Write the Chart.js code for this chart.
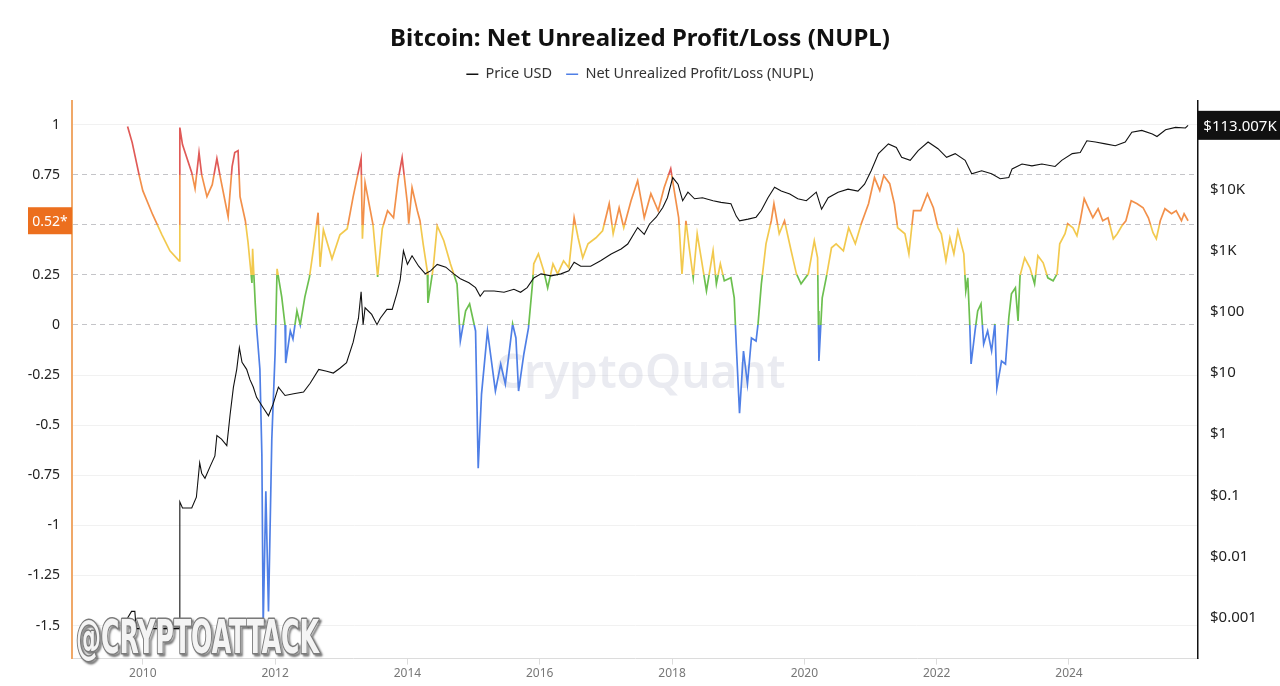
<!DOCTYPE html>
<html>
<head>
<meta charset="utf-8">
<title>Bitcoin: Net Unrealized Profit/Loss (NUPL)</title>
<script src="https://cdn.jsdelivr.net/npm/chart.js@4.4.1/dist/chart.umd.min.js"></script>
<style>
  html, body { margin: 0; padding: 0; background: #fff; }
  #wrap { width: 1280px; height: 686px; position: relative; }
</style>
</head>
<body>
<div id="wrap"><canvas id="nuplChart"></canvas></div>
<script>
// dates are decimal years
var nuplDates = [
  2009.77, 2009.84, 2009.95, 2010.00, 2010.15, 2010.29, 2010.41, 2010.55, 2010.56, 2010.60,
  2010.74, 2010.79, 2010.85, 2010.89, 2010.97, 2011.05, 2011.12, 2011.17, 2011.29, 2011.35,
  2011.39, 2011.44, 2011.47, 2011.55, 2011.59, 2011.65, 2011.66, 2011.70, 2011.72, 2011.77,
  2011.80, 2011.82, 2011.86, 2011.90, 2011.95, 2012.00, 2012.03, 2012.10, 2012.15, 2012.16,
  2012.23, 2012.27, 2012.33, 2012.38, 2012.45, 2012.52, 2012.58, 2012.65, 2012.68, 2012.73,
  2012.86, 2012.98, 2013.09, 2013.18, 2013.30, 2013.32, 2013.36, 2013.44, 2013.48, 2013.55,
  2013.62, 2013.70, 2013.79, 2013.86, 2013.92, 2014.00, 2014.02, 2014.07, 2014.15, 2014.19,
  2014.24, 2014.30, 2014.31, 2014.39, 2014.45, 2014.55, 2014.65, 2014.75, 2014.80, 2014.88,
  2014.94, 2015.03, 2015.07, 2015.12, 2015.21, 2015.33, 2015.41, 2015.48, 2015.59, 2015.64,
  2015.68, 2015.76, 2015.83, 2015.89, 2015.91, 2015.98, 2016.06, 2016.12, 2016.20, 2016.27,
  2016.36, 2016.44, 2016.52, 2016.58, 2016.65, 2016.73, 2016.85, 2016.95, 2017.05, 2017.11,
  2017.20, 2017.27, 2017.38, 2017.48, 2017.58, 2017.68, 2017.79, 2017.88, 2017.98, 2018.05,
  2018.10, 2018.15, 2018.21, 2018.26, 2018.32, 2018.38, 2018.44, 2018.52, 2018.62, 2018.67,
  2018.73, 2018.79, 2018.89, 2018.94, 2018.97, 2019.02, 2019.08, 2019.14, 2019.20, 2019.27,
  2019.30, 2019.35, 2019.42, 2019.50, 2019.54, 2019.62, 2019.70, 2019.80, 2019.88, 2019.95,
  2020.06, 2020.15, 2020.20, 2020.21, 2020.22, 2020.27, 2020.33, 2020.41, 2020.48, 2020.59,
  2020.67, 2020.77, 2020.86, 2020.97, 2021.06, 2021.14, 2021.20, 2021.29, 2021.36, 2021.41,
  2021.52, 2021.58, 2021.65, 2021.76, 2021.86, 2021.95, 2022.02, 2022.07, 2022.14, 2022.20,
  2022.26, 2022.32, 2022.41, 2022.44, 2022.47, 2022.50, 2022.52, 2022.58, 2022.62, 2022.67,
  2022.71, 2022.77, 2022.83, 2022.88, 2022.91, 2022.98, 2023.04, 2023.09, 2023.13, 2023.19,
  2023.23, 2023.26, 2023.33, 2023.41, 2023.48, 2023.53, 2023.61, 2023.68, 2023.76, 2023.82,
  2023.86, 2023.94, 2023.98, 2024.06, 2024.12, 2024.17, 2024.23, 2024.29, 2024.36, 2024.44,
  2024.51, 2024.59, 2024.67, 2024.73, 2024.80, 2024.86, 2024.94, 2025.03, 2025.12, 2025.20,
  2025.27, 2025.32, 2025.38, 2025.45, 2025.55, 2025.62, 2025.70, 2025.74, 2025.80
];
var nuplValues = [
  0.99, 0.91, 0.74, 0.67, 0.55, 0.45, 0.37, 0.32, 0.985, 0.90,
  0.76, 0.68, 0.86, 0.75, 0.64, 0.70, 0.83, 0.74, 0.54, 0.79,
  0.86, 0.87, 0.64, 0.52, 0.415, 0.21, 0.38, 0.105, -0.01, -0.22,
  -0.65, -1.5, -0.83, -1.43, -0.57, -0.14, 0.28, 0.14, 0.00, -0.19,
  -0.03, -0.07, 0.07, 0.00, 0.14, 0.24, 0.38, 0.56, 0.29, 0.475,
  0.33, 0.45, 0.48, 0.64, 0.83, 0.43, 0.71, 0.57, 0.50, 0.24,
  0.48, 0.57, 0.535, 0.725, 0.835, 0.605, 0.505, 0.685, 0.57, 0.52,
  0.40, 0.27, 0.11, 0.285, 0.495, 0.42, 0.305, 0.205, -0.08, 0.07,
  0.105, -0.03, -0.715, -0.345, -0.03, -0.33, -0.195, -0.295, 0.005, -0.065,
  -0.33, -0.145, -0.015, 0.205, 0.305, 0.355, 0.27, 0.185, 0.305, 0.255,
  0.32, 0.285, 0.535, 0.435, 0.335, 0.405, 0.435, 0.47, 0.605, 0.455,
  0.585, 0.485, 0.62, 0.72, 0.535, 0.655, 0.57, 0.685, 0.78, 0.635,
  0.535, 0.255, 0.52, 0.385, 0.235, 0.455, 0.335, 0.17, 0.37, 0.205,
  0.305, 0.22, 0.235, 0.135, -0.095, -0.44, -0.13, -0.295, -0.065, -0.08,
  0.005, 0.205, 0.405, 0.52, 0.605, 0.455, 0.52, 0.37, 0.255, 0.205,
  0.255, 0.42, 0.335, 0.07, -0.18, 0.135, 0.235, 0.385, 0.405, 0.37,
  0.485, 0.405, 0.505, 0.605, 0.735, 0.67, 0.745, 0.705, 0.605, 0.485,
  0.455, 0.355, 0.57, 0.57, 0.655, 0.585, 0.485, 0.455, 0.32, 0.435,
  0.355, 0.47, 0.355, 0.17, 0.235, 0.005, -0.195, -0.03, 0.07, 0.105,
  -0.095, -0.03, -0.13, 0.005, -0.315, -0.18, -0.195, 0.035, 0.155, 0.185,
  0.02, 0.245, 0.335, 0.285, 0.205, 0.345, 0.31, 0.235, 0.22, 0.255,
  0.405, 0.455, 0.505, 0.485, 0.445, 0.52, 0.63, 0.585, 0.535, 0.58,
  0.52, 0.535, 0.43, 0.455, 0.495, 0.52, 0.62, 0.605, 0.585, 0.535,
  0.46, 0.43, 0.52, 0.58, 0.555, 0.57, 0.52, 0.555, 0.52
];

var priceDates = [
  2009.77, 2009.83, 2009.88, 2009.90, 2010.55, 2010.56, 2010.60, 2010.74, 2010.81, 2010.86,
  2010.89, 2010.94, 2011.02, 2011.09, 2011.12, 2011.19, 2011.27, 2011.32, 2011.37, 2011.42,
  2011.46, 2011.50, 2011.57, 2011.62, 2011.67, 2011.72, 2011.82, 2011.90, 2011.97, 2012.05,
  2012.15, 2012.28, 2012.43, 2012.53, 2012.66, 2012.78, 2012.88, 2012.98, 2013.08, 2013.18,
  2013.26, 2013.30, 2013.33, 2013.36, 2013.46, 2013.54, 2013.59, 2013.69, 2013.77, 2013.84,
  2013.89, 2013.94, 2014.00, 2014.07, 2014.17, 2014.27, 2014.35, 2014.45, 2014.58, 2014.70,
  2014.80, 2014.93, 2015.03, 2015.10, 2015.16, 2015.31, 2015.46, 2015.61, 2015.71, 2015.81,
  2015.91, 2016.02, 2016.17, 2016.32, 2016.44, 2016.52, 2016.62, 2016.77, 2016.92, 2017.08,
  2017.23, 2017.33, 2017.48, 2017.58, 2017.66, 2017.76, 2017.86, 2017.93, 2018.01, 2018.09,
  2018.16, 2018.24, 2018.34, 2018.46, 2018.62, 2018.74, 2018.89, 2018.97, 2019.02, 2019.15,
  2019.27, 2019.35, 2019.45, 2019.55, 2019.65, 2019.78, 2019.90, 2020.03, 2020.18, 2020.26,
  2020.36, 2020.51, 2020.66, 2020.81, 2020.91, 2021.01, 2021.12, 2021.27, 2021.39, 2021.47,
  2021.60, 2021.72, 2021.87, 2022.02, 2022.15, 2022.28, 2022.43, 2022.53, 2022.68, 2022.83,
  2022.96, 2023.09, 2023.14, 2023.29, 2023.44, 2023.59, 2023.79, 2023.89, 2024.05, 2024.17,
  2024.27, 2024.40, 2024.55, 2024.70, 2024.85, 2024.95, 2025.10, 2025.26, 2025.33, 2025.46,
  2025.61, 2025.76, 2025.80
];
var priceValues = [
  0.00098, 0.00126, 0.00126, 0.00066, 0.00066, 0.078, 0.062, 0.062, 0.093, 0.34,
  0.23, 0.19, 0.30, 0.44, 0.95, 0.83, 0.65, 2.1, 5.9, 11.5,
  26, 15, 11.5, 7.8, 5.9, 4.0, 2.7, 2.0, 3.1, 5.9,
  4.3, 4.6, 4.9, 6.8, 11.5, 10.7, 10, 12, 14.8, 32,
  79, 214, 62, 117, 91, 62, 79, 110, 110, 200,
  330, 1000, 600, 830, 560, 420, 470, 600, 540, 420,
  350, 300, 250, 180, 220, 220, 210, 235, 210, 250,
  360, 420, 390, 420, 470, 650, 560, 560, 690, 890,
  1070, 1290, 2400, 1860, 2750, 3550, 5100, 7400, 15800, 12300,
  6600, 9100, 7100, 7400, 6600, 6200, 5900, 3700, 3100, 3300,
  3550, 4600, 7400, 11000, 9500, 8500, 7100, 6600, 9100, 4800,
  7400, 9100, 10200, 9500, 12300, 20400, 38900, 56200, 49000, 33900,
  30200, 43600, 60300, 46800, 33900, 38900, 30200, 18200, 20400, 18200,
  15100, 15800, 21900, 26300, 24500, 26300, 24000, 30200, 38900, 40700,
  63100, 60300, 56200, 52500, 60300, 87100, 93300, 81300, 74100, 95500,
  104700, 102300, 113007
];

var yearTicks = [2010, 2012, 2014, 2016, 2018, 2020, 2022, 2024];
var nuplTicks = [-1.5, -1.25, -1, -0.75, -0.5, -0.25, 0, 0.25, 0.5, 0.75, 1];
var priceTicks = [0.001, 0.01, 0.1, 1, 10, 100, 1000, 10000];
var priceTickLabels = ['$0.001', '$0.01', '$0.1', '$1', '$10', '$100', '$1K', '$10K'];

// NUPL zones, top to bottom: >0.75, 0.5-0.75, 0.25-0.5, 0-0.25, <0
var zoneEdges = [0.75, 0.5, 0.25, 0];
var zoneColors = ['#e05a57', '#f2904a', '#f2c94e', '#6cbf4f', '#4f7fe6'];

var FONT = "'Noto Sans', 'Open Sans', sans-serif";

function nuplGradient(context){
    var chart = context.chart;
    var area = chart.chartArea;
    var scale = chart.scales.y;
    if(!area || !scale){
        return zoneColors[4];
    }
    var g = chart.ctx.createLinearGradient(0, area.top, 0, area.bottom);
    var h = area.bottom - area.top;
    var prev = 0;
    for(var i = 0; i < zoneEdges.length; i++){
        var f = (scale.getPixelForValue(zoneEdges[i]) - area.top) / h;
        f = Math.min(1, Math.max(0, f));
        g.addColorStop(prev, zoneColors[i]);
        g.addColorStop(f, zoneColors[i]);
        prev = f;
    }
    g.addColorStop(prev, zoneColors[4]);
    g.addColorStop(1, zoneColors[4]);
    return g;
}

function isDashedLevel(v){
    return v >= 0 && v <= 0.75;
}

// latest value badges and watermarks
var overlayPlugin = {
    id: 'overlays',
    afterInit: function(chart){
        // a bit of room under the legend
        var legend = chart.legend;
        if(legend){
            var fit = legend.fit;
            legend.fit = function(){
                fit.call(this);
                this.height += 9;
            };
        }
    },
    beforeDatasetsDraw: function(chart){
        var ctx = chart.ctx;
        ctx.save();
        ctx.font = '600 46px ' + FONT;
        ctx.fillStyle = 'rgba(180, 182, 204, 0.28)';
        ctx.textAlign = 'center';
        ctx.textBaseline = 'middle';
        ctx.fillText('CryptoQuant', 640, 375);
        ctx.restore();
    },
    afterDraw: function(chart){
        var ctx = chart.ctx;
        var area = chart.chartArea;
        var yS = chart.scales.y;
        var pS = chart.scales.yPrice;

        var lastNupl = nuplValues[nuplValues.length - 1];
        var ny = yS.getPixelForValue(lastNupl);
        ctx.save();
        ctx.fillStyle = '#ec6f1e';
        ctx.fillRect(28, ny - 13.5, area.left - 28, 27);
        ctx.fillStyle = '#fff';
        ctx.font = '14px ' + FONT;
        ctx.textAlign = 'center';
        ctx.textBaseline = 'middle';
        ctx.fillText(lastNupl.toFixed(2) + '*', (28 + area.left) / 2, ny + 1);

        var lastPrice = priceValues[priceValues.length - 1];
        var py = pS.getPixelForValue(lastPrice);
        ctx.fillStyle = '#111';
        ctx.fillRect(area.right, py - 14.5, chart.width - area.right, 29);
        ctx.fillStyle = '#fff';
        ctx.font = '15px ' + FONT;
        ctx.fillText('$' + (lastPrice / 1000).toFixed(3) + 'K', (area.right + chart.width) / 2 + 1, py + 1);
        ctx.restore();

        // @CRYPTOATTACK stamp
        ctx.save();
        ctx.font = "bold 46px 'DejaVu Sans Condensed', 'Liberation Sans Narrow', sans-serif";
        ctx.textAlign = 'left';
        ctx.textBaseline = 'alphabetic';
        var w = ctx.measureText('@CRYPTOATTACK').width;
        ctx.translate(76, 653);
        ctx.scale(243 / w, 1);
        ctx.lineJoin = 'round';
        ctx.shadowColor = 'rgba(0,0,0,0.55)';
        ctx.shadowOffsetX = 2;
        ctx.shadowOffsetY = 2;
        ctx.shadowBlur = 2;
        ctx.strokeStyle = '#7a7a7a';
        ctx.lineWidth = 3;
        ctx.strokeText('@CRYPTOATTACK', 0, 0);
        ctx.shadowColor = 'transparent';
        ctx.fillStyle = '#f4f4f4';
        ctx.fillText('@CRYPTOATTACK', 0, 0);
        ctx.restore();
    }
};

function drawChart(chartID){
    var ctx = document.getElementById(chartID);

    var priceData = priceDates.map(function(d, i){ return {x: d, y: priceValues[i]}; });
    var nuplData = nuplDates.map(function(d, i){ return {x: d, y: nuplValues[i]}; });
    var legendColors = ['#111', '#4f7fe6'];

    var config = {
        type: 'line',
        data: {
            datasets: [
                {
                    label: 'Price USD',
                    data: priceData,
                    yAxisID: 'yPrice',
                    borderColor: '#111',
                    borderWidth: 1.1,
                },
                {
                    label: 'Net Unrealized Profit/Loss (NUPL)',
                    data: nuplData,
                    yAxisID: 'y',
                    borderColor: nuplGradient,
                    borderWidth: 1.7,
                },
            ]
        },
        options: {
            responsive: true,
            maintainAspectRatio: false,
            animation: false,
            elements: {
                point: { radius: 0, hoverRadius: 0 },
                line: { tension: 0 }
            },
            layout: {
                padding: { top: 0, bottom: 3, left: 0, right: 0 }
            },
            plugins: {
                tooltip: { enabled: false },
                title: {
                    display: true,
                    text: 'Bitcoin: Net Unrealized Profit/Loss (NUPL)',
                    color: '#111',
                    font: { family: FONT, size: 24, weight: 'bold', lineHeight: 1.0 },
                    padding: { top: 27, bottom: 2 }
                },
                legend: {
                    display: true,
                    position: 'top',
                    labels: {
                        color: '#333',
                        font: { family: FONT, size: 14.5 },
                        usePointStyle: true,
                        pointStyleWidth: 12,
                        boxHeight: 8,
                        padding: 14,
                        generateLabels: function(chart){
                            return chart.data.datasets.map(function(ds, i){
                                return {
                                    text: ds.label,
                                    fillStyle: legendColors[i],
                                    strokeStyle: legendColors[i],
                                    fontColor: '#333',
                                    lineWidth: 1.5,
                                    pointStyle: 'line',
                                    hidden: false,
                                    datasetIndex: i
                                };
                            });
                        }
                    }
                }
            },
            scales: {
                x: {
                    type: 'linear',
                    min: 2008.93,
                    max: 2025.95,
                    afterBuildTicks: function(scale){
                        scale.ticks = yearTicks.map(function(v){ return {value: v}; });
                    },
                    ticks: {
                        color: '#777',
                        font: { family: FONT, size: 12 },
                        maxRotation: 0,
                        autoSkip: false,
                        padding: 2,
                        callback: function(v){ return String(v); }
                    },
                    grid: {
                        drawOnChartArea: false,
                        color: '#dcdcdc',
                        tickLength: 6
                    },
                    border: { color: '#dcdcdc', width: 1 }
                },
                y: {
                    type: 'linear',
                    position: 'left',
                    min: -1.665,
                    max: 1.12,
                    afterBuildTicks: function(scale){
                        scale.ticks = nuplTicks.map(function(v){ return {value: v}; });
                    },
                    afterFit: function(scale){ scale.width = 72; },
                    ticks: {
                        color: '#222',
                        font: { family: FONT, size: 14 },
                        padding: 12,
                        callback: function(v){ return String(v); }
                    },
                    grid: {
                        drawTicks: false,
                        lineWidth: 1,
                        color: function(c){
                            if(c.tick && isDashedLevel(c.tick.value)) return '#c4c4c8';
                            return '#f1f1f1';
                        }
                    },
                    border: {
                        color: '#f0a868',
                        width: 2,
                        dash: function(c){
                            if(c.tick && isDashedLevel(c.tick.value)) return [5, 4];
                            return [];
                        }
                    }
                },
                yPrice: {
                    type: 'logarithmic',
                    position: 'right',
                    min: 0.000213,
                    max: 288000,
                    afterBuildTicks: function(scale){
                        scale.ticks = priceTicks.map(function(v){ return {value: v}; });
                    },
                    afterFit: function(scale){ scale.width = 82; },
                    ticks: {
                        color: '#222',
                        font: { family: FONT, size: 15 },
                        padding: 12,
                        callback: function(v){
                            var i = priceTicks.indexOf(v);
                            return i >= 0 ? priceTickLabels[i] : '';
                        }
                    },
                    grid: { display: false, drawTicks: false },
                    border: { color: '#111', width: 1.5 }
                }
            }
        },
        plugins: [overlayPlugin]
    };
    new Chart(ctx, config);
}

drawChart('nuplChart');
</script>
</body>
</html>
